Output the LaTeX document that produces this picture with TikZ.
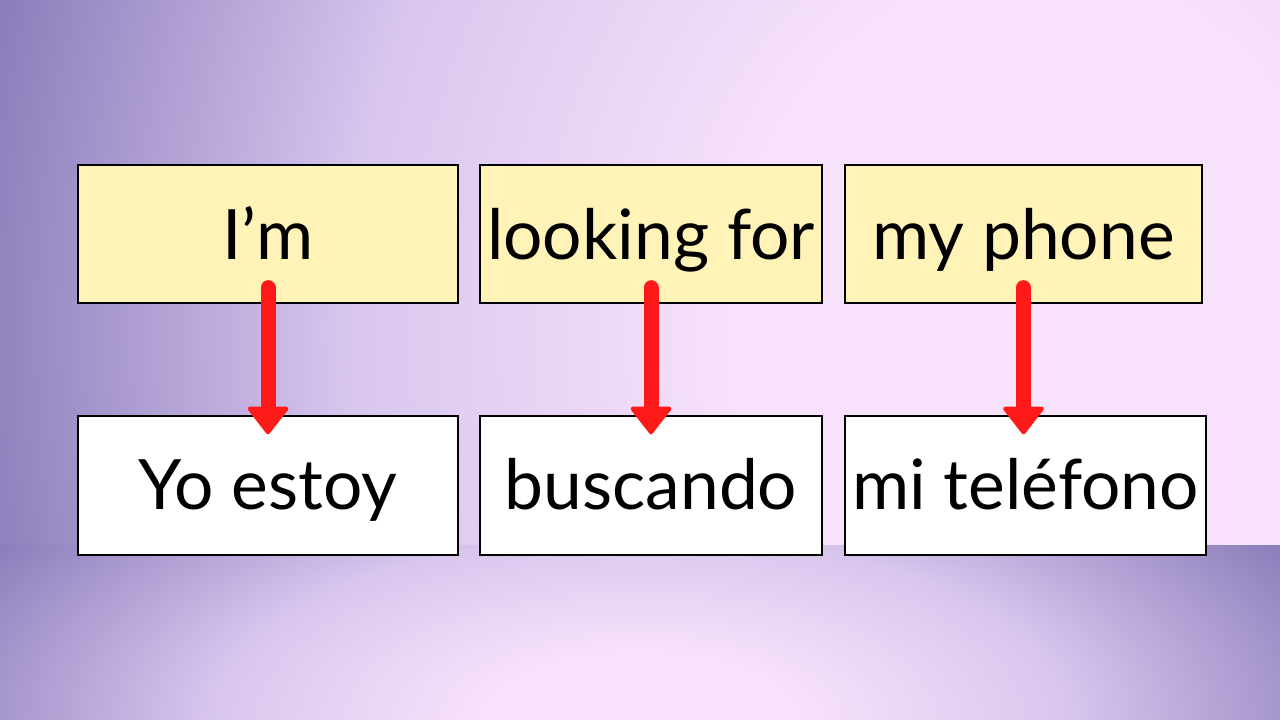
\documentclass[tikz,border=0pt]{standalone}
\usepackage{fontspec}
\setmainfont{Lato}
\usepackage{xcolor}
\usetikzlibrary{arrows.meta, calc}

\definecolor{bgpurple}{HTML}{8A7CBA}
\definecolor{bglav}{HTML}{D8C6EE}
\definecolor{bgpink}{HTML}{F8E2FB}
\definecolor{enyellow}{HTML}{FFF3B8}
\definecolor{arrowred}{HTML}{FF1A1A}

\pgfdeclareradialshading{topglow}{\pgfpoint{0bp}{0bp}}{color(0bp)=(bgpink); color(7bp)=(bgpink); color(16bp)=(bglav); color(25bp)=(bgpurple); color(50bp)=(bgpurple)}
\pgfdeclareradialshading{lowglow}{\pgfpoint{0bp}{0bp}}{color(0bp)=(bgpink); color(5bp)=(bgpink); color(14bp)=(bglav); color(25bp)=(bgpurple); color(50bp)=(bgpurple)}

\tikzset{
	wordbox/.style = {draw = black, line width = 1.3pt, rectangle, inner sep = 0pt, font = \fontsize{69.5}{78}\selectfont},
	enbox/.style = {wordbox, fill = enyellow, minimum height = 138pt, text height = 64pt, text depth = 13pt},
	esbox/.style = {wordbox, fill = white, minimum height = 139pt, text height = 62pt, text depth = 14pt},
	maparrow/.style = {arrowred, line width = 15pt, line cap = round, -{Triangle[width = 44pt, length = 29pt, line width = 4pt, round]}}
}

\begin{document}
\begin{tikzpicture}[x = 1pt, y = -1pt]
		\useasboundingbox (0,0) rectangle (1280,720);
		
		\begin{scope}
			\clip (0,0) rectangle (1280,545);
			\fill [bgpurple] (0,0) rectangle (1280,545);
			\shade [shading = topglow] (1040,330) ellipse [x radius = 1080, y radius = 1250];
		\end{scope}
		
		\begin{scope}
			\clip (0,545) rectangle (1280,720);
			\fill [bgpurple] (0,545) rectangle (1280,720);
			\shade [shading = lowglow] (640,720) ellipse [x radius = 760, y radius = 330];
		\end{scope}
		
		\node [enbox, minimum width = 380pt] (en1) at (268,234) {I’m};
		\node [enbox, minimum width = 342pt] (en2) at (651,234) {looking for};
		\node [enbox, minimum width = 357pt] (en3) at (1023.5,234) {my phone};
		
		\node [esbox, minimum width = 380pt] (es1) at (268,485.5) {Yo estoy};
		\node [esbox, minimum width = 342pt] (es2) at (651,485.5) {buscando};
		\node [esbox, minimum width = 361pt] (es3) at (1025.5,485.5) {mi teléfono};
		
		\foreach \i in {1,2,3}
		{
			\draw [maparrow] ([yshift = 16pt]en\i.south) -- ([yshift = -19pt]en\i.south |- es\i.north);
		}
	\end{tikzpicture}
\end{document}
